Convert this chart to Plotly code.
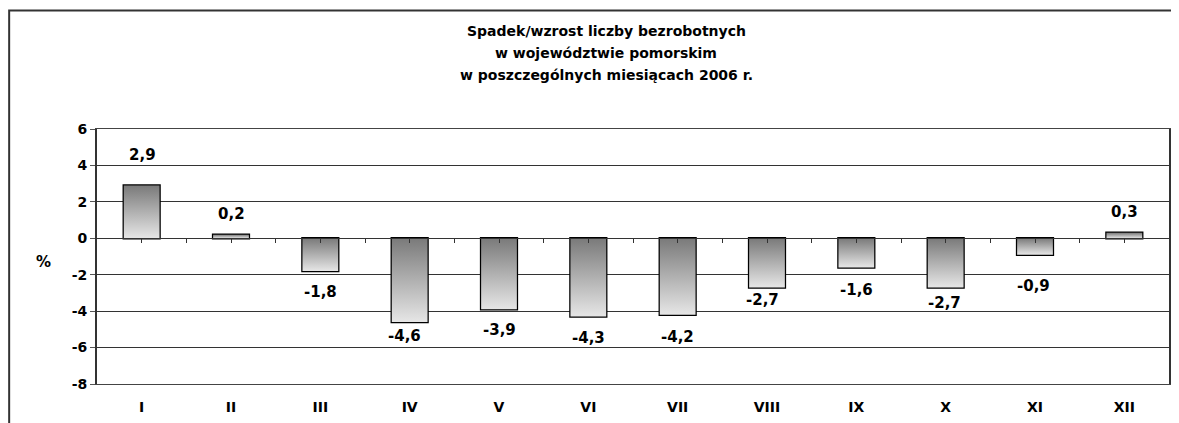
import plotly.graph_objects as go

# data
months = ['I', 'II', 'III', 'IV', 'V', 'VI', 'VII', 'VIII', 'IX', 'X', 'XI', 'XII']
change_pct = [2.9, 0.2, -1.8, -4.6, -3.9, -4.3, -4.2, -2.7, -1.6, -2.7, -0.9, 0.3]
value_labels = ['2,9', '0,2', '-1,8', '-4,6', '-3,9', '-4,3', '-4,2', '-2,7', '-1,6', '-2,7', '-0,9', '0,3']
y_ticks = [-8, -6, -4, -2, 0, 2, 4, 6]
y_tick_labels = ['-8', '-6', '-4', '-2', '0', '2', '4', '6']
title_lines = ['Spadek/wzrost liczby bezrobotnych',
               'w województwie pomorskim',
               'w poszczególnych miesiącach 2006 r.']

# label nudges (px) - labels were hand placed in the original
label_yshift = [30, 21, -21, -14, -21, -21, -22, -13, -23, -16, -31, 21]
label_xshift = [1, 0, 0, -5, 0, 0, 0, -5, 0, -1, -2, 0]

FONT = 'DejaVu Sans, Arial, sans-serif'
OFF = 8  # page body margin
W, H = 1179 - OFF, 423 - OFF
ML, MT = 97 - OFF, 129 - OFF
PW, PH = 1171 - 97, 385 - 129
MR, MB = W - ML - PW, H - MT - PH
bar_w = 0.4
xs = list(range(len(months)))


def px_x(x):  # page pixel -> paper x
    return (x - OFF - ML) / PW


def px_y(y):  # page pixel -> paper y
    return (MT + PH - (y - OFF)) / PH


fig = go.Figure()

# gradient fills of the bars (one trace each so every bar gets its own gradient)
for i, v in enumerate(change_pct):
    x0, x1 = i - bar_w / 2, i + bar_w / 2
    fig.add_trace(go.Scatter(
        x=[x0, x1, x1, x0, x0], y=[0, 0, v, v, 0],
        mode='none', fill='toself',
        fillgradient=dict(type='vertical',
                          colorscale=[[0, '#e6e6e6'], [1, '#7a7a7a']]),
        hoverinfo='skip', showlegend=False))

# bar outlines
fig.add_trace(go.Bar(
    x=xs, y=change_pct, width=bar_w,
    marker=dict(color='rgba(0,0,0,0)', line=dict(color='#000', width=2.5)),
    hovertemplate='%{y}<extra></extra>', showlegend=False))

# invisible trace to carry the zero axis
fig.add_trace(go.Scatter(x=[0], y=[0], xaxis='x2', mode='markers',
                         marker=dict(opacity=0), hoverinfo='skip', showlegend=False))

for i, v in enumerate(change_pct):
    fig.add_annotation(x=i, y=v, text=value_labels[i], showarrow=False,
                       xanchor='center', yanchor='middle',
                       xshift=label_xshift[i], yshift=label_yshift[i],
                       font=dict(family=FONT, size=15, color='#000', weight='bold'))

for k, line in enumerate(title_lines):
    fig.add_annotation(x=px_x(607), y=px_y(31 + 22 * k),
                       xref='paper', yref='paper', text=line, showarrow=False,
                       xanchor='center', yanchor='middle',
                       font=dict(family=FONT, size=14, color='#000', weight='bold'))

fig.add_annotation(x=px_x(43), y=px_y(263), xref='paper', yref='paper',
                   text='%', showarrow=False, xanchor='center', yanchor='middle',
                   font=dict(family=FONT, size=15, color='#000', weight='bold'))

# outer chart border
fig.add_shape(type='rect', xref='paper', yref='paper',
              x0=px_x(OFF + 1), x1=px_x(1195), y0=px_y(440), y1=px_y(10),
              line=dict(color='#333', width=2))

y_min, y_max = y_ticks[0], y_ticks[-1]
fig.update_layout(
    width=W, height=H,
    margin=dict(l=ML, r=MR, t=MT, b=MB),
    plot_bgcolor='white', paper_bgcolor='white',
    xaxis=dict(range=[-0.5, len(months) - 0.5], tickvals=xs, ticktext=months,
               showgrid=False, zeroline=False, ticks='',
               showline=True, mirror=True, linecolor='#444', linewidth=1,
               ticklabelstandoff=10,
               tickfont=dict(family=FONT, size=14, color='#000', weight='bold')),
    xaxis2=dict(range=[-0.5, len(months) - 0.5], overlaying='x', anchor='free',
                position=(0 - y_min) / (y_max - y_min),
                tickvals=[k / 2 for k in range(0, 2 * len(months) - 1)],
                showticklabels=False, ticks='outside', ticklen=4, tickcolor='#333',
                showline=True, linecolor='#333', linewidth=1, showgrid=False,
                zeroline=False),
    yaxis=dict(range=[y_min, y_max], tickvals=y_ticks, ticktext=y_tick_labels,
               showgrid=True, gridcolor='#333', gridwidth=1, zeroline=False,
               showline=True, mirror=True, linecolor='#333', linewidth=2,
               ticks='outside', ticklen=5, tickcolor='#555',
               tickfont=dict(family=FONT, size=14, color='#000', weight='bold')),
)

fig.write_html('out.html')
